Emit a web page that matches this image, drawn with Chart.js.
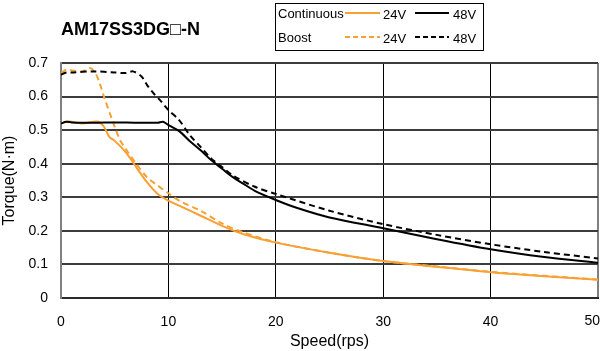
<!DOCTYPE html>
<html>
<head>
<meta charset="utf-8">
<script src="https://cdn.jsdelivr.net/npm/chart.js@4"></script>
<style>
  html, body { margin: 0; padding: 0; background: #fff; }
  .wrap { position: relative; width: 600px; height: 351px; }
</style>
</head>
<body>
<div class="wrap"><canvas id="torque" width="600" height="351"></canvas></div>
<script>
// speed (rps) and torque (N·m)
const cont24Speed = [0, 0.5, 1, 2, 3, 3.5, 4, 4.5, 5, 6, 7, 8, 9, 10, 11, 13, 15, 17, 20, 25, 30, 35, 40, 45, 50];
const cont24Torque = [0.52, 0.525, 0.525, 0.52, 0.525, 0.525, 0.51, 0.48, 0.468, 0.435, 0.39, 0.345, 0.31, 0.29, 0.275, 0.245, 0.215, 0.19, 0.165, 0.135, 0.11, 0.093, 0.077, 0.065, 0.054];

const cont48Speed = [0, 0.5, 1, 3, 5, 7, 9, 9.5, 10, 11, 12, 13, 14, 15, 16, 17, 18, 20, 22, 25, 30, 35, 40, 45, 50];
const cont48Torque = [0.52, 0.525, 0.523, 0.522, 0.523, 0.522, 0.522, 0.525, 0.515, 0.497, 0.467, 0.44, 0.41, 0.385, 0.36, 0.34, 0.32, 0.292, 0.268, 0.24, 0.208, 0.175, 0.145, 0.122, 0.105];

const boost24Speed = [0, 0.5, 1, 2, 2.7, 3.2, 3.6, 4, 5, 5.5, 6, 7, 8, 9, 10, 11, 13, 15, 17, 20, 25, 30, 35, 40, 45, 50];
const boost24Torque = [0.67, 0.68, 0.678, 0.675, 0.685, 0.67, 0.64, 0.6, 0.51, 0.47, 0.445, 0.4, 0.36, 0.335, 0.312, 0.29, 0.26, 0.222, 0.195, 0.166, 0.135, 0.11, 0.094, 0.078, 0.066, 0.055];

const boost48Speed = [0, 0.5, 1, 3, 5, 6, 6.7, 7.5, 8, 8.6, 9.2, 10, 11, 12, 13, 14, 15, 16, 18, 20, 25, 30, 35, 40, 45, 50];
const boost48Torque = [0.665, 0.672, 0.672, 0.675, 0.672, 0.67, 0.675, 0.66, 0.635, 0.61, 0.59, 0.56, 0.53, 0.485, 0.45, 0.415, 0.39, 0.365, 0.332, 0.31, 0.26, 0.22, 0.188, 0.16, 0.137, 0.118];

const xTicks = [0, 10, 20, 30, 40, 50];
const yTicks = [0, 0.1, 0.2, 0.3, 0.4, 0.5, 0.6, 0.7];
const xMax = 50;

const orange = '#f7a034';
const FONT = '"Liberation Sans", Arial, "DejaVu Sans", sans-serif';

const pts = (xs, ys) => xs.map((x, i) => ({x: x, y: ys[i]}));

// title, legend box and the last x label (pushed in from the edge)
const extras = {
    id: 'extras',
    afterDraw(chart) {
        const ctx = chart.ctx;
        const xs = chart.scales.x;
        ctx.save();
        ctx.fillStyle = '#000';
        ctx.textBaseline = 'middle';
        ctx.font = 'bold 18px ' + FONT;
        ctx.fillText('AM17SS3DG\u25A1-N', 61, 30);

        ctx.font = '14px ' + FONT;
        ctx.textAlign = 'right';
        ctx.fillText(String(xMax), 600, xs.top + 23);
        ctx.textAlign = 'left';

        ctx.strokeStyle = '#000';
        ctx.lineWidth = 1;
        ctx.strokeRect(275.5, 3.5, 208, 47);

        ctx.font = '13px ' + FONT;
        ctx.fillText('Continuous', 278, 14);
        ctx.fillText('Boost', 278, 38);
        ctx.fillText('24V', 383, 15);
        ctx.fillText('48V', 453, 15);
        ctx.fillText('24V', 383, 39);
        ctx.fillText('48V', 453, 39);

        const seg = (x1, x2, y, col, dash) => {
            ctx.beginPath();
            ctx.setLineDash(dash);
            ctx.strokeStyle = col;
            ctx.lineWidth = 2;
            ctx.moveTo(x1, y);
            ctx.lineTo(x2, y);
            ctx.stroke();
        };
        seg(345, 380, 13, orange, []);
        seg(415, 449, 13, '#000', []);
        seg(345, 380, 37, orange, [5, 3]);
        seg(415, 449, 37, '#000', [5, 3]);
        ctx.restore();
    }
};

new Chart(document.getElementById('torque'), {
    type: 'scatter',
    data: {
        datasets: [
            {label: 'Continuous 48V', data: pts(cont48Speed, cont48Torque), borderColor: '#000'},
            {label: 'Boost 48V', data: pts(boost48Speed, boost48Torque), borderColor: '#000', borderDash: [6, 4]},
            {label: 'Continuous 24V', data: pts(cont24Speed, cont24Torque), borderColor: orange},
            {label: 'Boost 24V', data: pts(boost24Speed, boost24Torque), borderColor: orange, borderDash: [6, 4]}
        ].map(d => Object.assign(d, {showLine: true, pointRadius: 0, borderWidth: 2, tension: 0.3, fill: false}))
    },
    options: {
        responsive: false,
        animation: false,
        layout: {padding: {left: 0, right: 2, top: 63, bottom: 0}},
        plugins: {legend: {display: false}, tooltip: {enabled: false}},
        scales: {
            x: {
                type: 'linear',
                min: 0, max: xMax,
                afterBuildTicks: (s) => { s.ticks = xTicks.map(v => ({value: v})); },
                afterFit: (s) => { s.height = 53; s.paddingLeft = 0; s.paddingRight = 0; },
                grid: {
                    color: (c) => c.tick && c.tick.value === xMax ? '#808080' : '#000',
                    lineWidth: (c) => c.tick && c.tick.value === xMax ? 2 : 1,
                    drawTicks: false
                },
                border: {color: '#2a2a2a', width: 2},
                ticks: {color: '#000', font: {family: FONT, size: 14}, padding: 16, maxRotation: 0,
                    callback: (v) => v === xMax ? '' : String(v)},
                title: {display: true, text: 'Speed(rps)', color: '#000', font: {family: FONT, size: 16}, padding: {top: 1, bottom: 0}}
            },
            y: {
                type: 'linear',
                min: 0, max: 0.7,
                afterBuildTicks: (s) => { s.ticks = yTicks.map(v => ({value: v})); },
                afterFit: (s) => { s.width = 61; s.paddingTop = 0; s.paddingBottom = 0; },
                grid: {color: '#3c3c3c', lineWidth: 2, drawTicks: false},
                border: {color: '#808080', width: 2},
                ticks: {color: '#000', font: {family: FONT, size: 14}, padding: 13,
                    callback: (v) => v === 0 ? '0' : v.toFixed(1)},
                title: {display: true, text: 'Torque(N\u00B7m)', color: '#000', font: {family: FONT, size: 16}, padding: {top: 0, bottom: 0}}
            }
        }
    },
    plugins: [extras]
});
</script>
</body>
</html>
